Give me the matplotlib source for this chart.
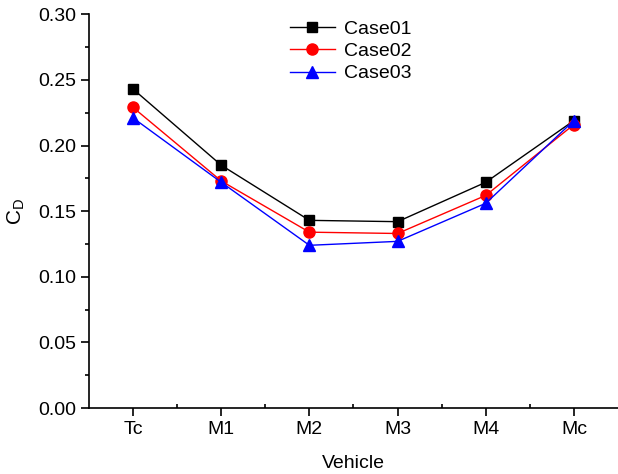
import matplotlib
matplotlib.use("Agg")
import matplotlib.pyplot as plt
import numpy as np
from matplotlib.ticker import MultipleLocator, FormatStrFormatter

vehicles = ["Tc", "M1", "M2", "M3", "M4", "Mc"]
case01 = [0.243, 0.185, 0.143, 0.142, 0.172, 0.219]
case02 = [0.229, 0.173, 0.134, 0.133, 0.162, 0.216]
case03 = [0.221, 0.172, 0.124, 0.127, 0.156, 0.219]

plt.rcParams.update({
    "font.family": ["Liberation Sans", "DejaVu Sans"],
    "mathtext.fontset": "custom",
    "mathtext.rm": "Liberation Sans",
    "mathtext.it": "Liberation Sans",
})

fig = plt.figure(figsize=(6.18, 4.74), dpi=100)
ax = fig.add_axes([0.144, 0.139, 0.856, 0.831])

x = np.arange(len(vehicles))
ax.plot(x, case01, color="black", marker="s", ms=7.5, lw=1, label="Case01")
ax.plot(x, case02, color="red", marker="o", ms=8, lw=1, label="Case02")
ax.plot(x, case03, color="blue", marker="^", ms=8.5, lw=1, label="Case03")

ax.set_xlim(-0.5, 5.5)
ax.set_ylim(0, 0.30)
ax.set_xticks(x)
ax.set_xticklabels(vehicles)
ax.yaxis.set_major_locator(MultipleLocator(0.05))
ax.yaxis.set_minor_locator(MultipleLocator(0.025))
ax.yaxis.set_major_formatter(FormatStrFormatter("%.2f"))
ax.set_xticks(x[:-1] + 0.5, minor=True)

for s in ["top", "right"]:
    ax.spines[s].set_visible(False)
for s in ["left", "bottom"]:
    ax.spines[s].set_linewidth(1.2)
ax.tick_params(which="major", direction="out", length=6, width=1.2, labelsize=14)
ax.tick_params(which="minor", direction="out", length=3, width=1.2)
ax.tick_params(axis="x", which="minor", direction="in", length=3)

ax.set_xlabel("Vehicle", fontsize=14, labelpad=12)
ax.set_ylabel(r"$\mathrm{C_D}$", fontsize=15, labelpad=8)

ax.legend(loc="upper center", bbox_to_anchor=(0.495, 1.03), frameon=False,
          fontsize=14, handlelength=2.3, handletextpad=0.5, labelspacing=0.25)

fig.savefig("out.png", dpi=100)
